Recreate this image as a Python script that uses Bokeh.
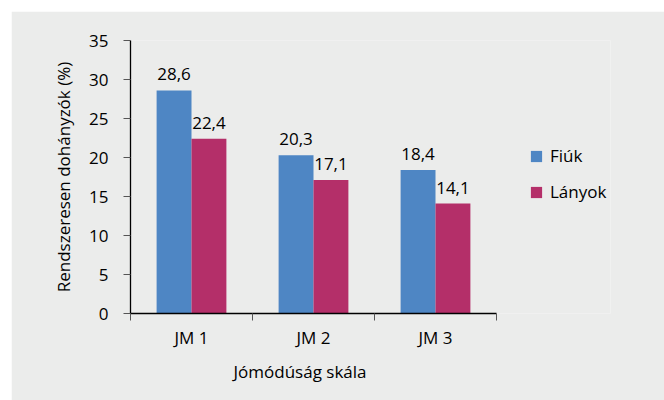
from bokeh.plotting import figure
from bokeh.models import ColumnDataSource, Range1d, FixedTicker, Legend, LegendItem, Title
from bokeh.transform import dodge
from bokeh.core.properties import value
from bokeh.embed import file_html
from bokeh.resources import INLINE

categories = ["JM 1", "JM 2", "JM 3"]
fiuk = [28.6, 20.3, 18.4]
lanyok = [22.4, 17.1, 14.1]
series_names = ["Fiúk", "Lányok"]
y_ticks = [0, 5, 10, 15, 20, 25, 30, 35]
x_title = "Jómódúság skála"
y_title = "Rendszeresen dohányzók (%)"

BG = "#ebeceb"
BLUE = "#4e86c4"
MAG = "#b42f69"
FONT = "Open Sans"
FS = "17px"

idx = [i + 0.5 for i in range(len(categories))]
src = ColumnDataSource(dict(
    x=idx,
    fiuk=fiuk,
    lanyok=lanyok,
    fiuk_lbl=[f"{v:.1f}".replace(".", ",") for v in fiuk],
    lanyok_lbl=[f"{v:.1f}".replace(".", ",") for v in lanyok],
))

n = len(categories)
# frame: 130..610 px wide, axis spans the first 366 px (categories)
x_end = n * 480 / 366
p = figure(width=653, height=389, output_backend="svg", toolbar_location=None,
           x_range=Range1d(0, x_end), y_range=Range1d(0, 35),
           min_border_left=119, min_border_right=54, min_border_top=29, min_border_bottom=87)
p.styles = {"margin-left": "11px", "margin-top": "11px"}
p.background_fill_color = BG
p.border_fill_color = BG
p.outline_line_color = None
p.grid.visible = False

w = 0.286
r1 = p.vbar(x=dodge("x", -w / 2, range=p.x_range), top="fiuk", width=w, source=src,
            fill_color=BLUE, line_color=None)
r2 = p.vbar(x=dodge("x", w / 2, range=p.x_range), top="lanyok", width=w, source=src,
            fill_color=MAG, line_color=None)

for col, off in (("fiuk", -w / 2), ("lanyok", w / 2)):
    p.text(x=dodge("x", off, range=p.x_range), y=col, text=col + "_lbl", source=src,
           text_align="center", text_baseline="alphabetic", y_offset=-16,
           text_font=value(FONT), text_font_size=FS, text_color="black")

# x axis: labels at category centres, ticks at category boundaries
xt = FixedTicker(ticks=idx, minor_ticks=[float(i) for i in range(n + 1)])
p.xaxis.ticker = xt
p.xaxis.bounds = (0, n)
p.xaxis.major_label_overrides = {v: c for v, c in zip(idx, categories)}
p.xaxis.major_tick_out = 0
p.xaxis.major_tick_in = 0
p.xaxis.minor_tick_out = 7
p.xaxis.minor_tick_in = 0
p.xaxis.minor_tick_line_color = "#555555"
p.xaxis.axis_line_color = "black"
p.xaxis.axis_line_width = 1.3
p.xaxis.major_label_standoff = 5

p.add_layout(Title(text=x_title, align="left", offset=103, standoff=12,
                   text_font=FONT, text_font_size=FS, text_font_style="normal",
                   text_color="black"), "below")

p.yaxis.ticker = FixedTicker(ticks=y_ticks, minor_ticks=[])
p.yaxis.major_tick_out = 7
p.yaxis.major_tick_in = 0
p.yaxis.major_tick_line_color = "#555555"
p.yaxis.axis_line_color = "black"
p.yaxis.axis_line_width = 1.3
p.yaxis.major_label_standoff = 15
p.yaxis.axis_label = y_title
p.yaxis.axis_label_standoff = 11

for ax in (p.xaxis, p.yaxis):
    ax.major_label_text_font = FONT
    ax.major_label_text_font_size = FS
    ax.major_label_text_color = "black"
    ax.axis_label_text_font = FONT
    ax.axis_label_text_font_size = FS
    ax.axis_label_text_font_style = "normal"
    ax.axis_label_text_color = "black"

legend = Legend(items=[LegendItem(label=series_names[0], renderers=[r1]),
                       LegendItem(label=series_names[1], renderers=[r2])],
                location=(399, 110), orientation="vertical",
                glyph_width=14, glyph_height=14, label_standoff=7, spacing=13,
                padding=0, margin=0, label_height=20,
                label_text_font=FONT, label_text_font_size=FS, label_text_color="black",
                background_fill_alpha=0, border_line_alpha=0)
p.add_layout(legend, "center")

open("out.html", "w").write(file_html(p, INLINE))
